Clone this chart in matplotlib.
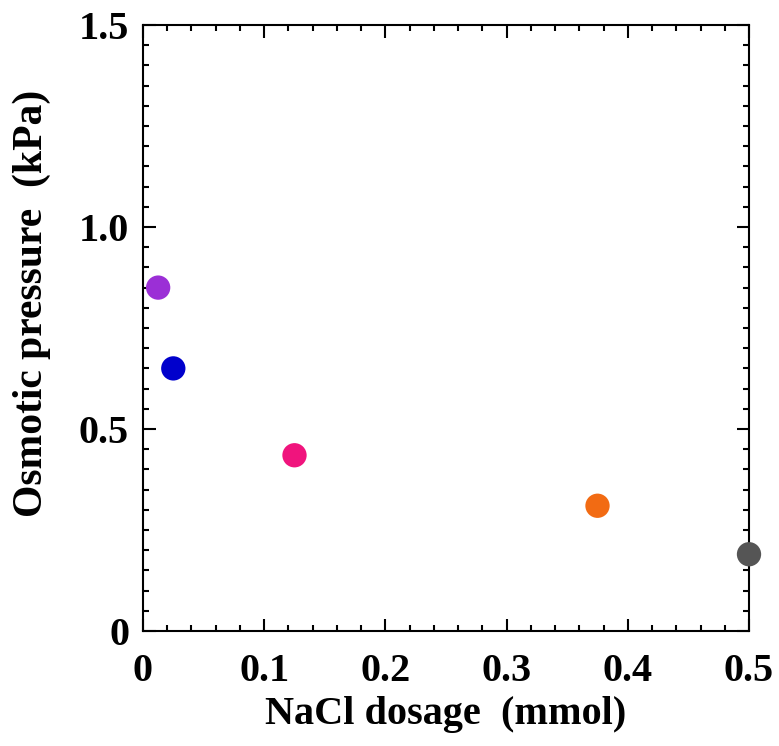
import matplotlib
matplotlib.use("Agg")
import matplotlib.pyplot as plt
from matplotlib.ticker import MultipleLocator

nacl = [0.0125, 0.025, 0.125, 0.375, 0.5]
osm = [0.85, 0.65, 0.435, 0.31, 0.19]
colors = ["#9B2FD6", "#0000CC", "#F0147D", "#F26B13", "#555555"]
xticks = [0, 0.1, 0.2, 0.3, 0.4, 0.5]
xticklabels = ["0", "0.1", "0.2", "0.3", "0.4", "0.5"]
yticks = [0, 0.5, 1.0, 1.5]
yticklabels = ["0", "0.5", "1.0", "1.5"]

plt.rcParams['font.family'] = ['Liberation Serif', 'DejaVu Serif']
plt.rcParams['font.weight'] = 'bold'

fig = plt.figure(figsize=(7.79, 7.46), dpi=100)
ax = fig.add_axes([143/779, 1-631/746, (749-143)/779, (631-25)/746])
ax.scatter(nacl, osm, s=17.5**2, c=colors, zorder=3, clip_on=False, linewidths=0)
ax.set_xlim(0, 0.5)
ax.set_ylim(0, 1.5)
ax.xaxis.set_minor_locator(MultipleLocator(0.02))
ax.yaxis.set_minor_locator(MultipleLocator(0.05))
ax.set_xticks(xticks)
ax.set_xticklabels(xticklabels)
ax.set_yticks(yticks)
ax.set_yticklabels(yticklabels)
ax.tick_params(which='both', direction='in', top=True, right=True, width=1.5, labelsize=29)
ax.tick_params(axis='x', which='major', pad=16)
ax.tick_params(axis='y', which='major', pad=10)
ax.tick_params(which='major', length=9)
ax.tick_params(which='minor', length=4.5)
for sp in ax.spines.values():
    sp.set_linewidth(1.5)
ax.set_xlabel("NaCl dosage  (mmol)", fontsize=29, fontweight='bold', labelpad=4)
ax.set_ylabel("Osmotic pressure  (kPa)", fontsize=30, fontweight='bold')
ax.yaxis.set_label_coords(-0.152, 0.541)
fig.savefig("out.png", dpi=100)
